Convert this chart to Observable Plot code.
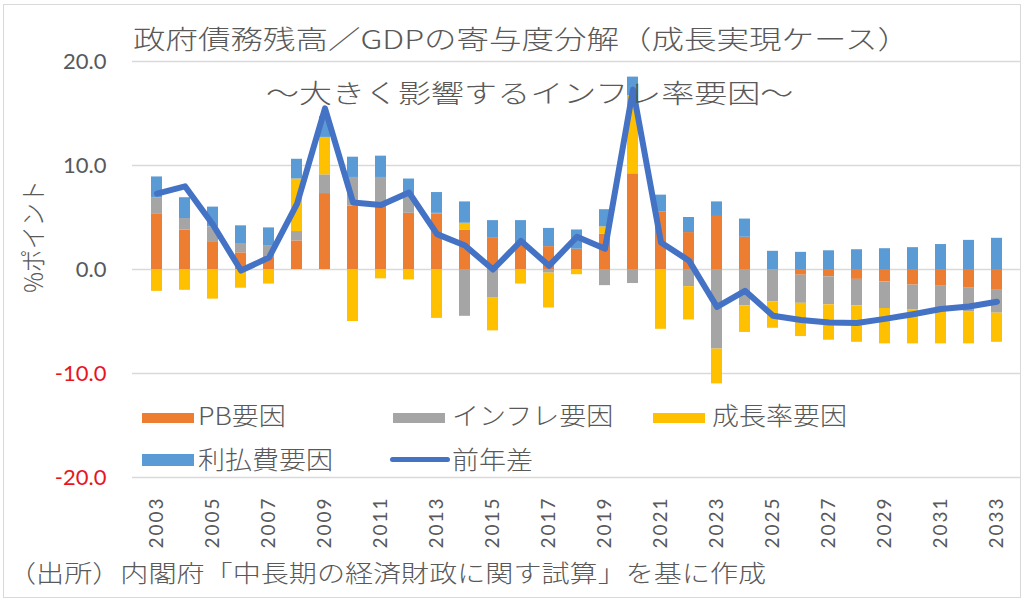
<!DOCTYPE html>
<html>
<head>
<meta charset="utf-8">
<script src="https://cdn.jsdelivr.net/npm/d3@7"></script>
<script src="https://cdn.jsdelivr.net/npm/@observablehq/plot@0.6"></script>
<style>
  body { margin: 0; background: #fff; }
  #wrap { position: relative; width: 1035px; height: 612px; overflow: hidden; font-family: "Noto Sans CJK JP", sans-serif; font-weight: 300; color: #595959; }
  #border { position: absolute; left: 3px; top: 4px; width: 1018px; height: 594px; border: 1.5px solid #d9d9d9; box-sizing: border-box; }
  #chart { position: absolute; left: 0; top: 0; }
  #chart svg { font-weight: 400; }
  .txt { position: absolute; white-space: nowrap; line-height: 1; display: inline-block; transform-origin: left center; }
  .sw { position: absolute; }
  svg g[aria-label="x-axis tick label"] text { letter-spacing: 2px; }
</style>
</head>
<body>
<div id="wrap">
  <div id="chart"></div>
  <div id="border"></div>
</div>
<script>
// ---- data ----
const years = [2003,2004,2005,2006,2007,2008,2009,2010,2011,2012,2013,2014,2015,2016,2017,2018,2019,2020,2021,2022,2023,2024,2025,2026,2027,2028,2029,2030,2031,2032,2033];
const seriesNames = ["PB要因", "インフレ要因", "成長率要因", "利払費要因"];
const pbFactor       = [5.3, 3.8, 2.6, 1.6, 1.15, 2.75, 7.3, 6.1, 6.2, 5.4, 5.3, 3.8, 3.0, 2.3, 2.2, 1.95, 3.4, 9.2, 5.55, 3.55, 5.1, 3.1, 0.0, -0.55, -0.7, -0.95, -1.2, -1.5, -1.55, -1.8, -2.0];
const inflFactor     = [1.6, 1.1, 1.5, 0.9, 1.15, 0.9, 1.8, 2.75, 2.65, 1.8, 0.1, -4.5, -2.7, 0.0, -0.35, 0.0, -1.55, -1.35, 0.0, -1.65, -7.65, -3.5, -3.1, -2.7, -2.7, -2.55, -2.55, -2.4, -2.35, -2.25, -2.2];
const growthFactor   = [-2.1, -2.0, -2.85, -1.8, -1.4, 5.05, 3.6, -5.0, -0.9, -1.0, -4.7, 0.65, -3.2, -1.4, -3.35, -0.5, 0.7, 7.5, -5.75, -3.2, -3.35, -2.55, -2.55, -3.2, -3.4, -3.5, -3.4, -3.25, -3.25, -3.1, -2.8];
const interestFactor = [2.0, 2.0, 1.9, 1.7, 1.7, 1.9, 2.0, 1.95, 2.05, 1.5, 2.0, 2.05, 1.7, 2.4, 1.75, 1.85, 1.65, 1.8, 1.6, 1.45, 1.4, 1.75, 1.75, 1.65, 1.8, 1.9, 2.0, 2.1, 2.4, 2.8, 3.0];
const yoyDiff        = [7.3, 8.0, 4.3, -0.1, 1.15, 6.3, 15.5, 6.45, 6.2, 7.4, 3.4, 2.3, 0.0, 2.75, 0.35, 3.15, 2.0, 17.3, 2.6, 0.85, -3.6, -2.05, -4.45, -4.85, -5.1, -5.15, -4.75, -4.3, -3.8, -3.55, -3.1];
const yTicks = [-20, -10, 0, 10, 20];
const xTickYears = [2003,2005,2007,2009,2011,2013,2015,2017,2019,2021,2023,2025,2027,2029,2031,2033];
const colors = ["#ED7D31", "#A5A5A5", "#FFC000", "#5B9BD5"];
const lineColor = "#4472C4";

// ---- tables ----
const bars = [];
[pbFactor, inflFactor, growthFactor, interestFactor].forEach((arr, si) =>
  arr.forEach((v, i) => bars.push({year: years[i], series: seriesNames[si], value: v}))
);
const lineData = years.map((y, i) => ({year: y, value: yoyDiff[i]}));

const chart = Plot.plot({
  width: 1035,
  height: 612,
  marginLeft: 132,
  marginRight: 14,
  marginTop: 61,
  marginBottom: 135,
  style: {background: "transparent", fontFamily: "Lato, sans-serif"},
  x: {type: "band", domain: years, paddingInner: 0.62, paddingOuter: 0.28, align: 0.5},
  y: {domain: [-20, 20]},
  color: {domain: seriesNames, range: colors},
  marks: [
    Plot.ruleY(yTicks, {stroke: "#d9d9d9", strokeWidth: 1.6}),
    Plot.barY(bars, {x: "year", y: "value", fill: "series"}),
    Plot.lineY(lineData, {x: "year", y: "value", stroke: lineColor, strokeWidth: 6, strokeLinejoin: "round", strokeLinecap: "round"}),
    Plot.axisY({ticks: yTicks, tickFormat: d => d.toFixed(1), tickSize: 0, tickPadding: 26, fontSize: 22, fill: d => d < 0 ? "#e8161b" : "#595959", label: null}),
    Plot.axisX({ticks: xTickYears, tickFormat: d => String(d), tickRotate: -90, tickSize: 0, tickPadding: 19, fontSize: 19, fill: "#595959", label: null})
  ]
});
document.getElementById("chart").appendChild(chart);

// ---- overlay texts ----
const wrap = document.getElementById("wrap");
function addText(str, x, cy, size, sx, opts = {}) {
  const el = document.createElement("div");
  el.className = "txt";
  el.textContent = str;
  el.style.fontSize = size + "px";
  el.style.left = x + "px";
  el.style.top = (cy - size / 2) + "px";
  el.style.transform = `scaleX(${sx})`;
  if (opts.color) el.style.color = opts.color;
  wrap.appendChild(el);
  if (opts.center) {
    const w = el.offsetWidth * sx;
    el.style.left = (x - w / 2) + "px";
  }
  return el;
}
function addSwatch(x, cy, w, h, color, radius) {
  const el = document.createElement("div");
  el.className = "sw";
  el.style.left = x + "px";
  el.style.top = (cy - h / 2) + "px";
  el.style.width = w + "px";
  el.style.height = h + "px";
  el.style.background = color;
  if (radius) el.style.borderRadius = radius + "px";
  wrap.appendChild(el);
}

addText("政府債務残高／GDPの寄与度分解（成長実現ケース）", 522, 38, 26, 1.25, {center: true});
addText("～大きく影響するインフレ率要因～", 530, 92, 26, 1.27, {center: true});
addText("（出所）内閣府「中長期の経済財政に関す試算」を基に作成", 8, 572, 24, 1.17);

// y-axis title (rotated)
const yt = document.createElement("div");
yt.className = "txt";
yt.textContent = "%ポイント";
yt.style.fontSize = "23px";
yt.style.transformOrigin = "center center";
wrap.appendChild(yt);
const ytw = yt.offsetWidth, yth = yt.offsetHeight;
yt.style.left = (32 - ytw / 2) + "px";
yt.style.top = (236 - yth / 2) + "px";
yt.style.transform = "rotate(-90deg) scaleY(1.15)";

// legend
addSwatch(142, 418, 52, 10, colors[0]);
addText(seriesNames[0], 198, 414, 25, 1.08);
addSwatch(393, 418, 52, 10, colors[1]);
addText(seriesNames[1], 452, 414, 25, 1.08);
addSwatch(653, 418, 52, 10, colors[2]);
addText(seriesNames[2], 712, 414, 25, 1.08);
addSwatch(142, 460, 52, 12, colors[3]);
addText(seriesNames[3], 198, 458, 25, 1.08);
addSwatch(390, 459, 60, 5, lineColor, 3);
addText("前年差", 452, 458, 25, 1.08);
</script>
</body>
</html>
